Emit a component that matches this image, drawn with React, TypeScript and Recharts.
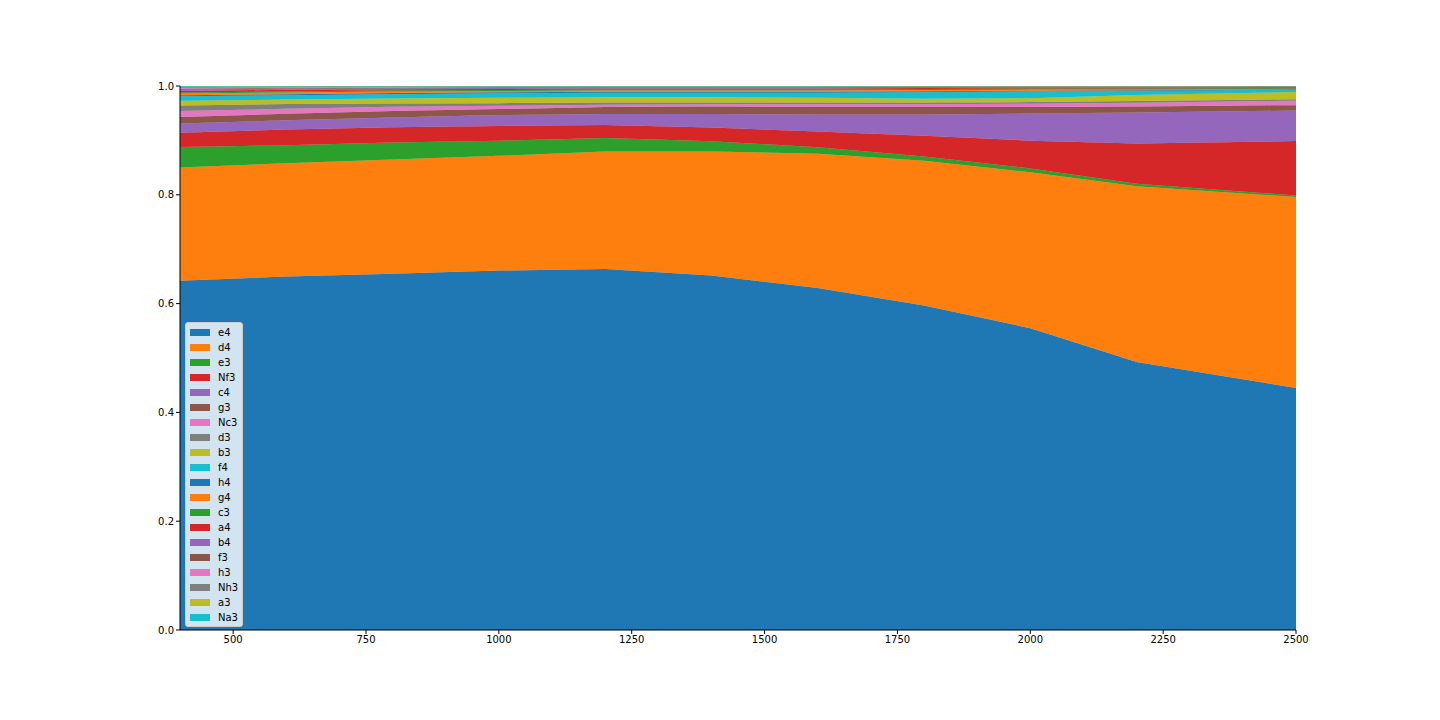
import React from 'react';
import { AreaChart, Area, XAxis, YAxis } from 'recharts';

// x positions (sample points)
const xs = [400, 600, 800, 1000, 1200, 1400, 1600, 1800, 2000, 2200, 2500];

// series, bottom to top
const seriesNames = ['e4', 'd4', 'e3', 'Nf3', 'c4', 'g3', 'Nc3', 'd3', 'b3', 'f4', 'h4', 'g4', 'c3', 'a4', 'b4', 'f3', 'h3', 'Nh3', 'a3', 'Na3'];

const e4 = [0.642, 0.65, 0.655, 0.661, 0.664, 0.652, 0.629, 0.597, 0.555, 0.493, 0.445];
const d4 = [0.208, 0.208, 0.21, 0.211, 0.216, 0.228, 0.247, 0.266, 0.287, 0.323, 0.351];
const e3 = [0.038, 0.033, 0.031, 0.028, 0.025, 0.019, 0.012, 0.008, 0.007, 0.005, 0.003];
const Nf3 = [0.026, 0.029, 0.028, 0.027, 0.024, 0.025, 0.029, 0.038, 0.051, 0.074, 0.1];
const c4 = [0.017, 0.017, 0.018, 0.02, 0.02, 0.025, 0.031, 0.039, 0.05, 0.057, 0.056];
const g3 = [0.012, 0.012, 0.012, 0.011, 0.013, 0.014, 0.014, 0.014, 0.012, 0.011, 0.01];
const Nc3 = [0.011, 0.009, 0.008, 0.006, 0.004, 0.004, 0.005, 0.005, 0.006, 0.007, 0.008];
const d3 = [0.01, 0.009, 0.006, 0.005, 0.004, 0.003, 0.003, 0.003, 0.003, 0.003, 0.003];
const b3 = [0.009, 0.008, 0.009, 0.01, 0.01, 0.01, 0.009, 0.007, 0.007, 0.011, 0.013];
const f4 = [0.008, 0.008, 0.008, 0.008, 0.008, 0.008, 0.009, 0.012, 0.013, 0.008, 0.004];
const h4 = [0.002, 0.002, 0.002, 0.002, 0.002, 0.002, 0.002, 0.002, 0.001, 0.001, 0.001];
const g4 = [0.003, 0.003, 0.003, 0.002, 0.002, 0.002, 0.002, 0.002, 0.002, 0.001, 0.001];
const c3 = [0.002, 0.002, 0.002, 0.002, 0.002, 0.002, 0.002, 0.002, 0.002, 0.002, 0.001];
const a4 = [0.003, 0.003, 0.002, 0.002, 0.002, 0.002, 0.002, 0.002, 0.002, 0.002, 0.002];
const b4 = [0.003, 0.002, 0.002, 0.002, 0.001, 0.001, 0.001, 0.001, 0.001, 0.001, 0.001];
const f3 = [0.001, 0.001, 0.001, 0.001, 0.001, 0.001, 0.001, 0.001, 0.0005, 0.0005, 0.0005];
const h3 = [0.002, 0.002, 0.001, 0.001, 0.001, 0.001, 0.001, 0.0005, 0.0005, 0.0005, 0.0003];
const Nh3 = [0.001, 0.001, 0.001, 0.0005, 0.0005, 0.0005, 0.0005, 0.0005, 0.0003, 0.0003, 0.0002];
const a3 = [0.001, 0.0005, 0.0005, 0.0005, 0.0005, 0.0005, 0.0005, 0.0003, 0.0002, 0.0002, 0.0001];
const Na3 = [0.001, 0.0005, 0.0005, 0.0005, 0.0005, 0.0005, 0.0005, 0.0002, 0.0001, 0.0001, 0.0001];

const seriesValues = [e4, d4, e3, Nf3, c4, g3, Nc3, d3, b3, f4, h4, g4, c3, a4, b4, f3, h3, Nh3, a3, Na3];

const xTicks = [500, 750, 1000, 1250, 1500, 1750, 2000, 2250, 2500];
const yTicks = [0, 0.2, 0.4, 0.6, 0.8, 1.0];

const tab10 = ['#1f77b4', '#ff7f0e', '#2ca02c', '#d62728', '#9467bd', '#8c564b', '#e377c2', '#7f7f7f', '#bcbd22', '#17becf'];

const data = xs.map((x, i) => {
  const row: Record<string, number> = { x };
  seriesNames.forEach((name, s) => {
    row[name] = seriesValues[s][i];
  });
  return row;
});

const font = '"DejaVu Sans", sans-serif';

// matplotlib-style legend box, overlaid on the plot (lower left)
function LegendBox() {
  return (
    <div
      style={{
        position: 'absolute',
        left: 185,
        top: 322,
        background: 'rgba(255,255,255,0.8)',
        border: '1px solid #cccccc',
        borderRadius: 3,
        padding: '2px 4px 1px 4px',
        fontFamily: font,
        fontSize: 10,
        color: '#000',
        zIndex: 2,
      }}
    >
      {seriesNames.map((name, i) => (
        <div key={name} style={{ display: 'flex', alignItems: 'center', height: 15 }}>
          <span
            style={{
              display: 'inline-block',
              width: 20,
              height: 7,
              background: tab10[i % 10],
              marginRight: 8,
            }}
          />
          <span>{name}</span>
        </div>
      ))}
    </div>
  );
}

export default function App() {
  return (
    <div style={{ position: 'absolute', left: 0, top: 0, width: 1440, height: 720, background: '#fff' }}>
      <AreaChart
        width={1440}
        height={720}
        data={data}
        stackOffset="expand"
        margin={{ top: 86, right: 144, bottom: 60, left: 140 }}
      >
        <XAxis
          dataKey="x"
          type="number"
          domain={[400, 2500]}
          ticks={xTicks}
          height={30}
          tickSize={4}
          tickLine={{ stroke: '#000' }}
          axisLine={{ stroke: '#000' }}
          tick={{ fill: '#000', fontSize: 10, fontFamily: font }}
          allowDataOverflow
        />
        <XAxis
          xAxisId="top"
          dataKey="x"
          type="number"
          domain={[400, 2500]}
          orientation="top"
          tick={false}
          tickLine={false}
          height={0}
          axisLine={{ stroke: '#000' }}
        />
        <YAxis
          domain={[0, 1]}
          ticks={yTicks}
          width={40}
          tickSize={4}
          tickFormatter={(v: number) => v.toFixed(1)}
          tickLine={{ stroke: '#000' }}
          axisLine={{ stroke: '#000' }}
          tick={{ fill: '#000', fontSize: 10, fontFamily: font }}
          allowDataOverflow
        />
        <YAxis
          yAxisId="right"
          orientation="right"
          domain={[0, 1]}
          tick={false}
          tickLine={false}
          width={0}
          axisLine={{ stroke: '#000' }}
        />
        {seriesNames.map((name, i) => (
          <Area
            key={name}
            dataKey={name}
            stackId="s"
            type="linear"
            fill={tab10[i % 10]}
            fillOpacity={1}
            stroke={tab10[i % 10]}
            strokeWidth={0.5}
            isAnimationActive={false}
          />
        ))}
      </AreaChart>
      <LegendBox />
    </div>
  );
}
